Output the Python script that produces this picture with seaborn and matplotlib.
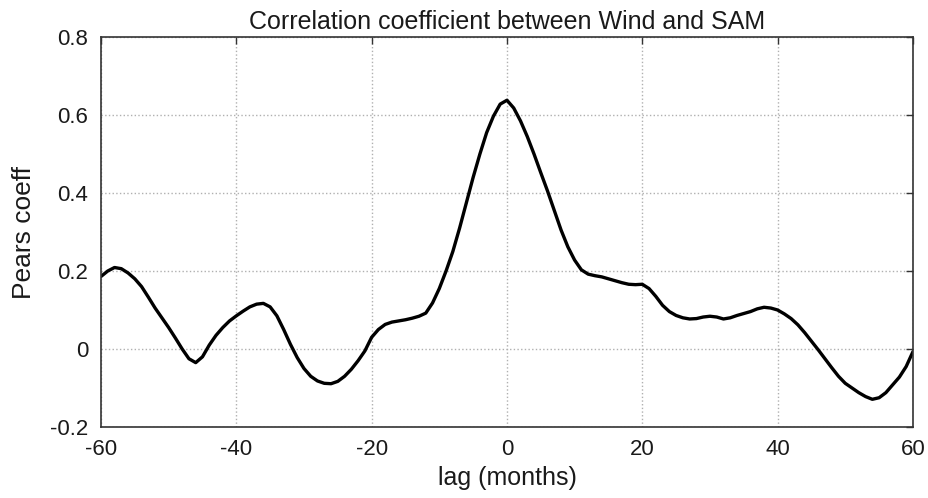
import numpy as np
import pandas as pd
import matplotlib
matplotlib.use("Agg")
import matplotlib.pyplot as plt
import seaborn as sns

# Lagged correlation between wind and SAM index, one value per month of lag
lag_months = list(range(-60, 61))
pears_coeff = [
    0.186, 0.200, 0.209, 0.206, 0.195, 0.180, 0.160, 0.133, 0.105, 0.080,   # -60..-51
    0.055, 0.028, 0.000, -0.025, -0.035, -0.020, 0.010, 0.035, 0.055, 0.072,  # -50..-41
    0.085, 0.097, 0.108, 0.115, 0.117, 0.108, 0.085, 0.050, 0.012, -0.022,    # -40..-31
    -0.050, -0.070, -0.082, -0.088, -0.089, -0.083, -0.070, -0.052, -0.030, -0.005,  # -30..-21
    0.030, 0.050, 0.063, 0.069, 0.072, 0.075, 0.079, 0.084, 0.092, 0.118,     # -20..-11
    0.155, 0.200, 0.250, 0.310, 0.375, 0.440, 0.500, 0.555, 0.597, 0.628,     # -10..-1
    0.638,                                                                     # 0
    0.618, 0.585, 0.545, 0.500, 0.452, 0.405, 0.355, 0.305, 0.262, 0.228,     # 1..10
    0.203, 0.192, 0.188, 0.185, 0.180, 0.175, 0.170, 0.166, 0.165, 0.166,     # 11..20
    0.155, 0.135, 0.112, 0.096, 0.086, 0.080, 0.077, 0.078, 0.082, 0.084,     # 21..30
    0.082, 0.077, 0.080, 0.086, 0.091, 0.096, 0.103, 0.107, 0.105, 0.100,     # 31..40
    0.090, 0.078, 0.062, 0.042, 0.020, -0.002, -0.025, -0.048, -0.070, -0.088,  # 41..50
    -0.100, -0.112, -0.122, -0.129, -0.125, -0.112, -0.092, -0.072, -0.045, -0.007,  # 51..60
]
x_ticks = [-60, -40, -20, 0, 20, 40, 60]
y_ticks = [-0.2, 0, 0.2, 0.4, 0.6, 0.8]
y_tick_labels = ["-0.2", "0", "0.2", "0.4", "0.6", "0.8"]

df = pd.DataFrame({"lag": lag_months, "coeff": pears_coeff})

sns.set_theme(style="white")
plt.rcParams["font.family"] = ["Liberation Sans", "DejaVu Sans"]

fig = plt.figure(figsize=(9.29, 4.98), dpi=100)
ax = fig.add_axes([0.1087, 0.1426, 0.874, 0.783])

sns.lineplot(data=df, x="lag", y="coeff", ax=ax, color="black", linewidth=2.4)

ax.set_xlim(-60, 60)
ax.set_ylim(-0.2, 0.8)
ax.set_xticks(x_ticks)
ax.set_xticklabels([str(t) for t in x_ticks])
ax.set_yticks(y_ticks)
ax.set_yticklabels(y_tick_labels)

ax.grid(True, linestyle=":", color="#b0b0b0", linewidth=1.0)
for s in ax.spines.values():
    s.set_visible(True)
    s.set_color("#333333")
    s.set_linewidth(1.2)

ax.tick_params(direction="in", top=True, right=True, length=5, width=1,
               colors="#333333", labelsize=16, labelcolor="#1a1a1a", pad=9)

ax.set_title("Correlation coefficient between Wind and SAM", fontsize=18,
             color="#1a1a1a", pad=6)
ax.set_xlabel("lag (months)", fontsize=18, color="#1a1a1a", labelpad=4)
ax.set_ylabel("Pears coeff", fontsize=19, color="#1a1a1a", labelpad=10)

fig.savefig("out.png", dpi=100, facecolor="white")
